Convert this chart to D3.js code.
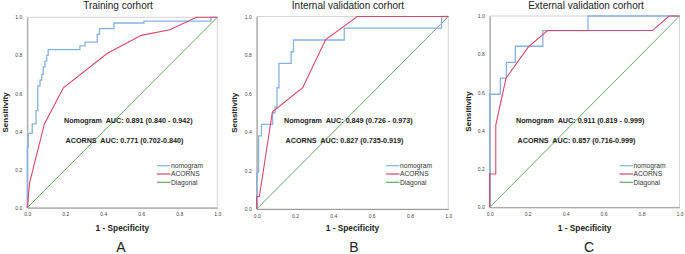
<!DOCTYPE html>
<html>
<head>
<meta charset="utf-8">
<script src="https://cdn.jsdelivr.net/npm/d3@7"></script>
<style>
  body { margin: 0; background: #fff; }
  svg text { font-family: "Liberation Sans", Arial, sans-serif; white-space: pre; }
</style>
</head>
<body>
<svg id="chart" width="685" height="254"></svg>
<script>
// ROC data: [1 - specificity, sensitivity]
const nomogramA = [[0,0],[0,0.32],[0.005,0.32],[0.005,0.39],[0.026,0.39],[0.026,0.44],[0.046,0.44],[0.046,0.51],[0.055,0.51],[0.055,0.64],[0.067,0.64],[0.067,0.67],[0.076,0.67],[0.076,0.70],[0.084,0.70],[0.084,0.74],[0.093,0.74],[0.093,0.77],[0.102,0.77],[0.102,0.80],[0.11,0.80],[0.11,0.83],[0.277,0.83],[0.277,0.85],[0.304,0.85],[0.304,0.87],[0.368,0.87],[0.368,0.91],[0.38,0.91],[0.38,0.94],[0.456,0.94],[0.456,0.97],[0.614,0.97],[0.614,0.98],[0.967,0.98],[0.967,1],[1,1]];
const acornsA = [[0,0],[0.012,0.13],[0.09,0.44],[0.19,0.63],[0.42,0.81],[0.6,0.905],[0.75,0.935],[0.89,1],[1,1]];

const nomogramB = [[0,0],[0,0.19],[0.01,0.19],[0.01,0.38],[0.025,0.38],[0.025,0.44],[0.083,0.44],[0.083,0.5],[0.096,0.5],[0.096,0.53],[0.106,0.53],[0.106,0.63],[0.116,0.63],[0.116,0.756],[0.18,0.756],[0.18,0.817],[0.192,0.817],[0.192,0.878],[0.457,0.878],[0.457,0.94],[0.965,0.94],[0.965,1],[1,1]];
const acornsB = [[0,0],[0,0.065],[0.014,0.065],[0.082,0.505],[0.24,0.63],[0.36,0.88],[0.525,1],[1,1]];

const nomogramC = [[0,0],[0,0.591],[0.056,0.591],[0.056,0.675],[0.088,0.675],[0.088,0.758],[0.135,0.758],[0.135,0.842],[0.28,0.842],[0.28,0.924],[0.518,0.924],[0.518,1],[1,1]];
const acornsC = [[0,0],[0,0.174],[0.032,0.174],[0.032,0.43],[0.086,0.675],[0.205,0.84],[0.305,0.924],[0.858,0.924],[0.945,1],[1,1]];

const diagonal = [[0,0],[1,1]];

const titles = ["Training corhort", "Internal validation corhort", "External validation corhort"];
const panelLetters = ["A", "B", "C"];
const nomogramText = ["Nomogram  AUC: 0.891 (0.840 - 0.942)", "Nomogram  AUC: 0.849 (0.726 - 0.973)", "Nomogram  AUC: 0.911 (0.819 - 0.999)"];
const acornsText = ["ACORNS  AUC: 0.771 (0.702-0.840)", "ACORNS  AUC: 0.827 (0.735-0.919)", "ACORNS  AUC: 0.857 (0.716-0.999)"];
const legendNames = ["nomogram", "ACORNS", "Diagonal"];
const tickValues = [0, 0.2, 0.4, 0.6, 0.8, 1.0];

const BLUE = "#86b3e3";
const RED = "#d8466e";
const GREEN = "#6aa86a";

// panel frames (pixel boxes of the plot areas)
const panels = [
  { x0: 27.3, x1: 217.3, top: 17.3, bottom: 207.7, nom: nomogramA, aco: acornsA, titleX: 118, ylabX: 5, textX: 64, legX: 157, letterX: 121 },
  { x0: 256.7, x1: 448.3, top: 16.5, bottom: 209, nom: nomogramB, aco: acornsB, titleX: 348, ylabX: 234, textX: 284, legX: 386, letterX: 354 },
  { x0: 489.7, x1: 679.5, top: 16, bottom: 207.3, nom: nomogramC, aco: acornsC, titleX: 586, ylabX: 467.5, textX: 516, legX: 619.5, letterX: 589 }
];

const svg = d3.select("#chart");

panels.forEach(function (p, i) {
  let x = d3.scaleLinear().domain([0, 1]).range([p.x0, p.x1]);
  let y = d3.scaleLinear().domain([0, 1]).range([p.bottom, p.top]);
  let g = svg.append("g");

  // frame
  g.append("rect")
    .attr("x", p.x0).attr("y", p.top)
    .attr("width", p.x1 - p.x0).attr("height", p.bottom - p.top)
    .attr("fill", "none").attr("stroke", "#d4d4d4").attr("stroke-width", 1);

  // axes
  let xAxis = g.append("g")
    .attr("transform", "translate(0," + p.bottom + ")")
    .call(d3.axisBottom(x).tickValues(tickValues).tickFormat(d3.format(".1f")).tickSize(0).tickPadding(5));
  let yAxis = g.append("g")
    .attr("transform", "translate(" + p.x0 + ",0)")
    .call(d3.axisLeft(y).tickValues(tickValues).tickFormat(d3.format(".1f")).tickSize(0).tickPadding(5));
  [xAxis, yAxis].forEach(function (a) {
    a.select(".domain").attr("stroke", "#9a9a9a");
    a.selectAll("text").attr("font-size", 5).attr("fill", "#444").style("font-family", "Liberation Sans, Arial, sans-serif");
  });

  let line = d3.line().x((d) => x(d[0])).y((d) => y(d[1]));

  g.append("path").datum(diagonal).attr("d", line)
    .attr("fill", "none").attr("stroke", GREEN).attr("stroke-width", 1);
  g.append("path").datum(p.nom).attr("d", line)
    .attr("fill", "none").attr("stroke", BLUE).attr("stroke-width", 1.3);
  g.append("path").datum(p.aco).attr("d", line)
    .attr("fill", "none").attr("stroke", RED).attr("stroke-width", 1.1);

  // title
  g.append("text").attr("x", p.titleX).attr("y", 8.8)
    .attr("text-anchor", "middle").attr("font-size", 10).attr("fill", "#222")
    .text(titles[i]);

  // axis labels
  g.append("text").attr("x", (p.x0 + p.x1) / 2).attr("y", 231)
    .attr("text-anchor", "middle").attr("font-size", 8.3).attr("font-weight", "bold").attr("fill", "#222")
    .text("1 - Specificity");
  g.append("text")
    .attr("transform", "translate(" + (p.ylabX + 3) + "," + (p.top + p.bottom) / 2 + ") rotate(-90)")
    .attr("text-anchor", "middle").attr("font-size", 8).attr("font-weight", "bold").attr("fill", "#222")
    .text("Sensitivity");

  // AUC annotations
  g.append("text").attr("x", p.textX).attr("y", 123.3)
    .attr("font-size", 7.2).attr("font-weight", "bold").attr("fill", "#222")
    .text(nomogramText[i]);
  g.append("text").attr("x", p.textX + 1.5).attr("y", 143)
    .attr("font-size", 7.2).attr("font-weight", "bold").attr("fill", "#222")
    .text(acornsText[i]);

  // legend
  [BLUE, RED, GREEN].forEach(function (c, k) {
    let ly = 165.7 + k * 8.3;
    g.append("line").attr("x1", p.legX).attr("x2", p.legX + 13.5)
      .attr("y1", ly).attr("y2", ly).attr("stroke", c).attr("stroke-width", 1.2);
    g.append("text").attr("x", p.legX + 14).attr("y", ly + 2.4)
      .attr("font-size", 6.7).attr("fill", "#333")
      .text(legendNames[k]);
  });

  // panel letter
  g.append("text").attr("x", p.letterX).attr("y", 251.5)
    .attr("text-anchor", "middle").attr("font-size", 14).attr("fill", "#222")
    .text(panelLetters[i]);
});
</script>
</body>
</html>
